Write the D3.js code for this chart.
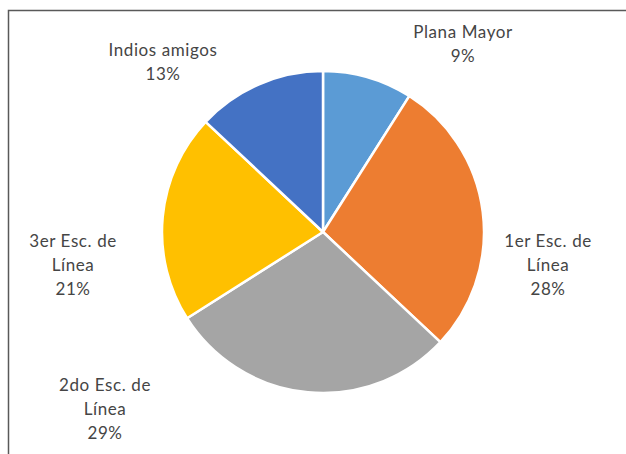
<!DOCTYPE html>
<html>
<head>
<meta charset="utf-8">
<script src="https://cdn.jsdelivr.net/npm/d3@7"></script>
<style>
    body { margin: 0; background: #fff; }
    svg { display: block; }
    .label text { font-family: Lato, "Liberation Sans", sans-serif; font-size: 17px; letter-spacing: 0.6px; fill: #454545; }
</style>
</head>
<body>
<svg id="chart" width="626" height="454"></svg>
<script>
const categories = ['Plana Mayor', '1er Esc. de Línea', '2do Esc. de Línea', '3er Esc. de Línea', 'Indios amigos'];
const values = [9, 28, 29, 21, 13];
const colors = ['#5b9bd5', '#ed7d31', '#a5a5a5', '#ffc000', '#4472c4'];
// label text split over lines, as in the original
const labelLines = [
    ['Plana Mayor'],
    ['1er Esc. de', 'Línea'],
    ['2do Esc. de', 'Línea'],
    ['3er Esc. de', 'Línea'],
    ['Indios amigos']
];
// where each label block sits, relative to the pie centre (best-fit placement)
const labelAnchors = [[140, -189], [225, 32], [-218, 176], [-250, 32], [-160, -171]];

const width = 626, height = 454;
const cx = 323, cy = 232, radius = 161;
const lineHeight = 24;

const svg = d3.select('#chart');

// chart frame (runs off the right and bottom edges)
svg.append('rect')
    .attr('x', 8.5)
    .attr('y', 10.5)
    .attr('width', width)
    .attr('height', height)
    .attr('fill', 'none')
    .attr('stroke', '#595959')
    .attr('stroke-width', 1.5);

const data = categories.map((name, i) => ({ name, value: values[i], lines: labelLines[i] }));
const total = d3.sum(values);

const pie = d3.pie()
    .sort(null)
    .value((d) => d.value);

const arc = d3.arc()
    .innerRadius(0)
    .outerRadius(radius);

const root = svg.append('g')
    .attr('transform', `translate(${cx}, ${cy})`);

root.selectAll('path')
    .data(pie(data))
    .enter()
        .append('path')
            .attr('d', arc)
            .attr('fill', (d, i) => colors[i])
            .attr('stroke', '#fff')
            .attr('stroke-width', 2.5)
            .attr('stroke-linejoin', 'round');

const labels = root.selectAll('.label')
    .data(pie(data))
    .enter()
        .append('g')
            .attr('class', 'label')
            .attr('transform', (d, i) => `translate(${labelAnchors[i][0]}, ${labelAnchors[i][1]})`);

labels.each(function (d) {
    const lines = [...d.data.lines, `${Math.round(d.data.value / total * 100)}%`];
    const g = d3.select(this);
    const offset = -(lines.length - 1) * lineHeight / 2;
    lines.forEach((t, j) => {
        g.append('text')
            .attr('text-anchor', 'middle')
            .attr('dominant-baseline', 'central')
            .attr('y', offset + j * lineHeight)
            .text(t);
    });
});
</script>
</body>
</html>
